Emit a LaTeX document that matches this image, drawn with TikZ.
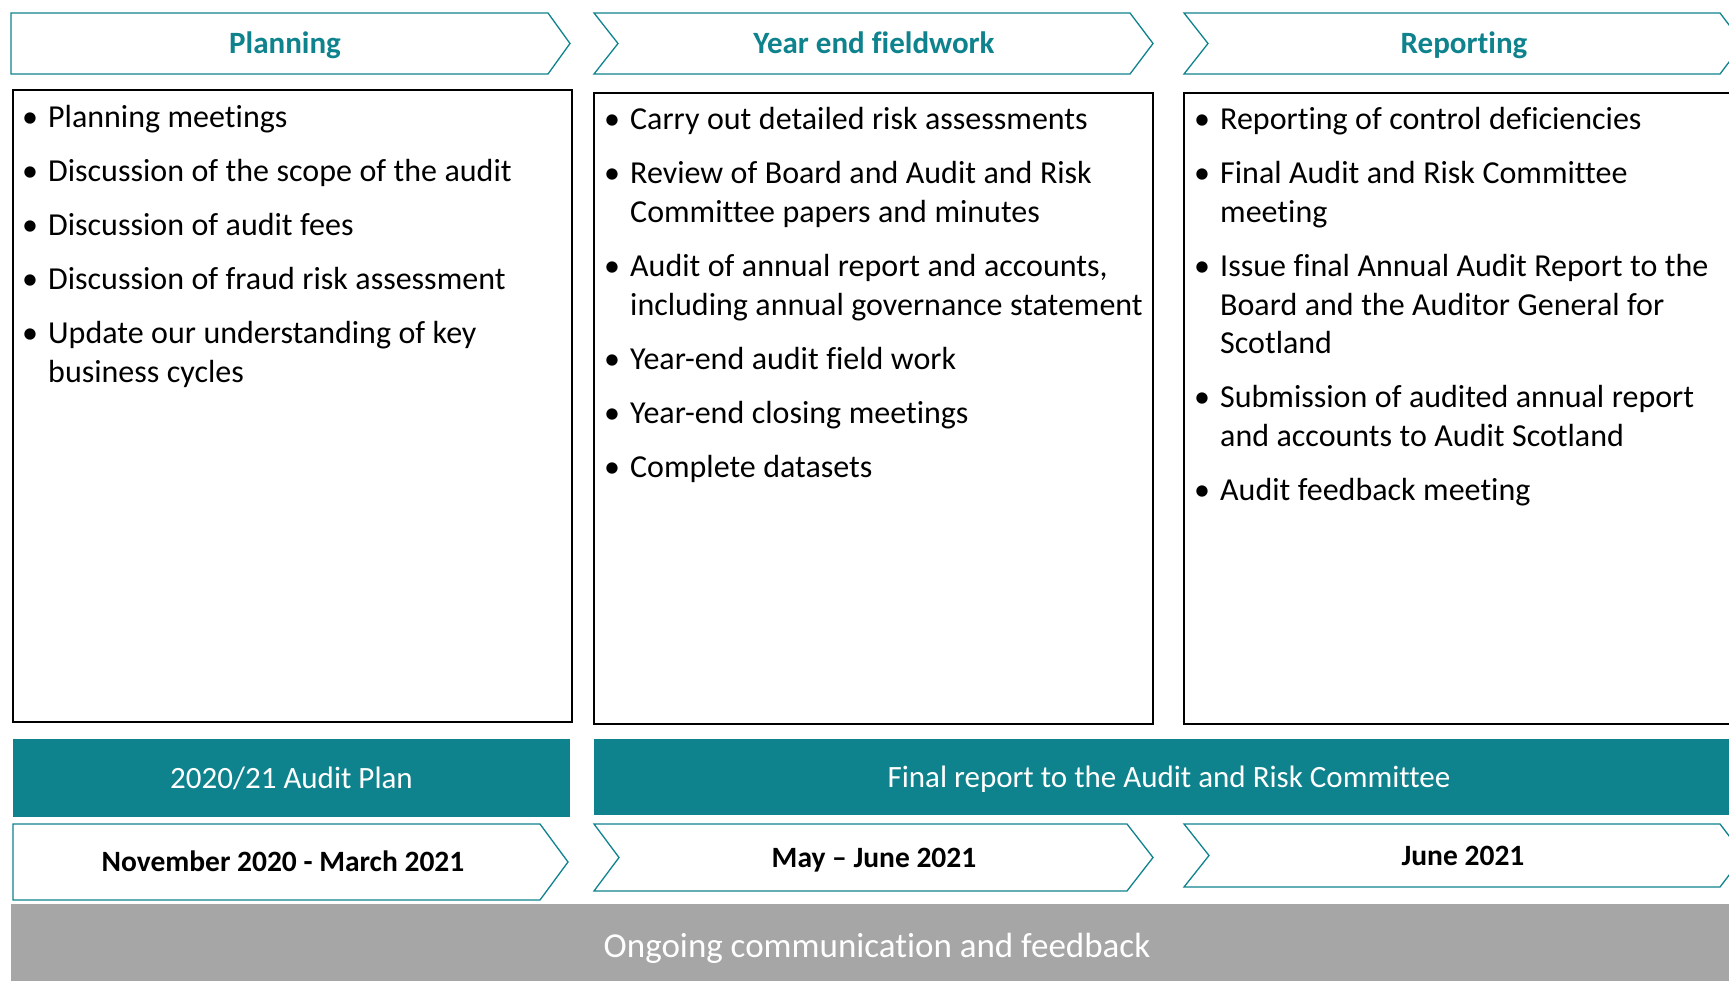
\documentclass[tikz,border=0pt]{standalone}
\usepackage{fontspec}
\setmainfont{Carlito}[Ligatures={TeX,NoCommon}]
\usetikzlibrary{calc}
\definecolor{audteal}{RGB}{15,131,141}
\definecolor{audgrey}{RGB}{166,166,166}
\tikzstyle{chevron} = [draw=audteal, line width=1.3pt, fill=white]
\tikzstyle{phase} = [font=\fontsize{31}{36}\selectfont\bfseries, text=audteal, inner sep=0pt, text height=20pt, text depth=0pt]
\tikzstyle{period} = [font=\fontsize{29.5}{34}\selectfont\bfseries, text=black, inner sep=0pt, text height=19pt, text depth=0pt]
\tikzstyle{listbox} = [draw=black, line width=1.6pt]
\tikzstyle{bullets} = [font=\fontsize{32}{38.6}\selectfont, anchor=base west, inner sep=0pt, text width=560pt, execute at begin node={\setlength{\parskip}{15.4pt}\leftskip=26pt\spaceskip=7.5pt plus 1pt minus 1pt}]
\tikzstyle{tealbar} = [fill=audteal, text=white, font=\fontsize{31}{36}\selectfont, inner sep=0pt, text height=20pt, text depth=0pt]
\tikzstyle{greybar} = [fill=audgrey, text=white, font=\fontsize{35}{40}\selectfont, inner sep=0pt, text height=30.5pt, text depth=0pt]
\newcommand{\bul}[1]{\noindent\llap{\makebox[26pt][l]{\textbullet}}#1\par}

\begin{document}
\begin{tikzpicture}[x=1pt, y=-1pt]

    \useasboundingbox (0,0) rectangle (1729,981);

    % bars along the bottom
    \node[greybar, minimum width=1732pt, minimum height=77pt] (ongoing) at (877,942.5) {Ongoing communication and feedback};
    \node[tealbar, minimum width=557pt, minimum height=78pt] (auditplan) at (291.5,778) {2020/21 Audit Plan};
    \node[tealbar, minimum width=1150pt, minimum height=76pt] (finalrep) at (1169,777) {Final report to the Audit and Risk Committee};

    % chevrons: left, body end, top, bottom, tip, notch
    \foreach \xa/\xb/\ya/\yb/\dx/\nt in {11/548/13/74/22/0, 594/1130/13/74/23/24, 1184/1720/13/74/23/24,
                                         13/540/824/900/28/0, 594/1127/824/891/26/25, 1184/1720/824/887/24/25}
        \path[chevron] (\xa,\ya) -- (\xb,\ya) -- (\xb+\dx,{(\ya+\yb)/2}) -- (\xb,\yb) -- (\xa,\yb) -- (\xa+\nt,{(\ya+\yb)/2}) -- cycle;

    \foreach \pos/\name/\txt in {{(285,43.5)/planning/Planning}, {(874,43.5)/fieldwork/Year end fieldwork}, {(1464,43.5)/reporting/Reporting}}
        \node[phase] (\name) at \pos {\txt};

    \foreach \pos/\name/\txt in {{(283,862)/novmar/November 2020 - March 2021}, {(874,857.5)/mayjun/May -- June 2021}, {(1463,855.5)/jun/June 2021}}
        \node[period] (\name) at \pos {\txt};

    % task lists
    \draw[listbox] (13,90) rectangle (572,722);
    \draw[listbox] (594,93) rectangle (1153,724);
    \draw[listbox] (1184,93) rectangle (1750,724);

    \node[bullets] (planlist) at (22,128) {%
        \bul{Planning meetings}
        \bul{Discussion of the scope of the audit}
        \bul{Discussion of audit fees}
        \bul{Discussion of fraud risk assessment}
        \bul{Update our understanding of key\\business cycles}};

    \node[bullets] (fieldlist) at (604,130) {%
        \bul{Carry out detailed risk assessments}
        \bul{Review of Board and Audit and Risk\\Committee papers and minutes}
        \bul{Audit of annual report and accounts,\\including annual governance statement}
        \bul{Year-end audit field work}
        \bul{Year-end closing meetings}
        \bul{Complete datasets}};

    \node[bullets] (replist) at (1194,130) {%
        \bul{Reporting of control deficiencies}
        \bul{Final Audit and Risk Committee\\meeting}
        \bul{Issue final Annual Audit Report to the\\Board and the Auditor General for\\Scotland}
        \bul{Submission of audited annual report\\and accounts to Audit Scotland}
        \bul{Audit feedback meeting}};

\end{tikzpicture}
\end{document}
